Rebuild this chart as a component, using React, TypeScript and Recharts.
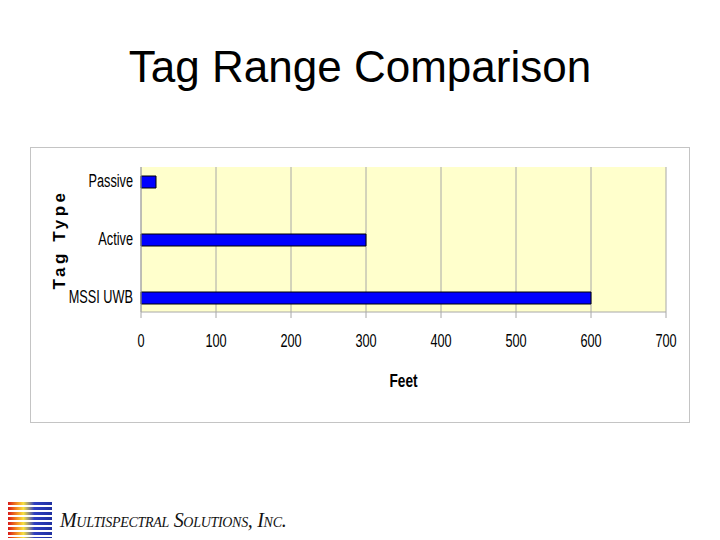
import React from "react";
import {
  BarChart,
  Bar,
  XAxis,
  YAxis,
  CartesianGrid,
} from "recharts";

// Tag types, top to bottom (blank rows keep the gaps between bars)
const tagTypes = ["Passive", "", "Active", "", "MSSI UWB"];
// Range in feet for each row
const rangeFeet = [20, null, 300, null, 600];
const feetTicks = [0, 100, 200, 300, 400, 500, 600, 700];

const data = tagTypes.map((name, i) => ({ name, feet: rangeFeet[i] }));

const sans = "'Liberation Sans', Arial, sans-serif";

// Arial Narrow isn't available, so squeeze Liberation Sans horizontally
const NarrowTick = (props: any) => {
  const { x, y, payload, axis } = props;
  const isX = axis === "x";
  return (
    <g transform={`translate(${x},${y})`}>
      <text
        transform="scale(0.67,1)"
        textAnchor={isX ? "middle" : "end"}
        dy={isX ? "0.71em" : "0.3em"}
        fill="#000"
        fontSize={19}
        fontFamily={sans}
      >
        {payload.value}
      </text>
    </g>
  );
};

const FeetLabel = (props: any) => {
  const vb = props.viewBox || {};
  const cx = vb.x + vb.width / 2;
  const cy = vb.y + vb.height - 20;
  return (
    <g transform={`translate(${cx},${cy})`}>
      <text transform="scale(0.72,1)" textAnchor="middle" fill="#000" fontSize={19} fontWeight="bold" fontFamily={sans}>
        Feet
      </text>
    </g>
  );
};

const Logo = () => (
  <div style={{ position: "absolute", left: 8, top: 502, display: "flex", alignItems: "center" }}>
    <div
      style={{
        width: 44,
        height: 36,
        background:
          "repeating-linear-gradient(to bottom, transparent 0px, transparent 3px, #fff 3px, #fff 5px), linear-gradient(to right, #d81818 0%, #f08020 18%, #f8e040 35%, #3040c0 60%, #2030a0 100%)",
      }}
    />
    <div
      style={{
        marginLeft: 8,
        fontFamily: "'Liberation Serif', 'Times New Roman', serif",
        fontStyle: "italic",
        fontVariant: "small-caps",
        fontSize: 20,
        color: "#111",
        letterSpacing: -0.3,
      }}
    >
      Multispectral Solutions, Inc.
    </div>
  </div>
);

export default function App() {
  return (
    <div style={{ position: "absolute", left: 0, top: 0, width: 720, height: 540, background: "#fff", overflow: "hidden" }}>
      <div
        style={{
          position: "absolute",
          top: 42,
          width: 720,
          textAlign: "center",
          fontFamily: sans,
          fontSize: 44,
          color: "#000",
        }}
      >
        Tag Range Comparison
      </div>

      <div
        style={{
          position: "absolute",
          left: 30,
          top: 147,
          width: 658,
          height: 274,
          border: "1px solid #c4c4c4",
        }}
      >
        <BarChart
          width={658}
          height={274}
          data={data}
          layout="vertical"
          margin={{ top: 19, right: 23, bottom: 15, left: 20 }}
        >
          <CartesianGrid
            horizontal={false}
            vertical={true}
            stroke="#a8a8a8"
            fill="#FFFFCC"
          />
          <XAxis
            type="number"
            domain={[0, 700]}
            ticks={feetTicks}
            interval={0}
            height={95}
            stroke="#a8a8a8"
            tickMargin={16}
            tick={(p: any) => <NarrowTick {...p} axis="x" />}
            label={<FeetLabel />}
          />
          <YAxis
            type="category"
            dataKey="name"
            width={90}
            stroke="#a8a8a8"
            tickLine={false}
            interval={0}
            tick={(p: any) => <NarrowTick {...p} axis="y" />}
            label={{
              value: "Tag Type",
              angle: -90,
              position: "insideLeft",
              offset: 8,
              fill: "#000",
              fontSize: 17,
              fontWeight: "bold",
              letterSpacing: 3.5,
              fontFamily: sans,
              style: { textAnchor: "middle" },
            }}
          />
          <Bar
            dataKey="feet"
            fill="#0000FF"
            stroke="#000"
            strokeWidth={1}
            barSize={12}
            isAnimationActive={false}
          />
        </BarChart>
      </div>

      <Logo />
    </div>
  );
}
